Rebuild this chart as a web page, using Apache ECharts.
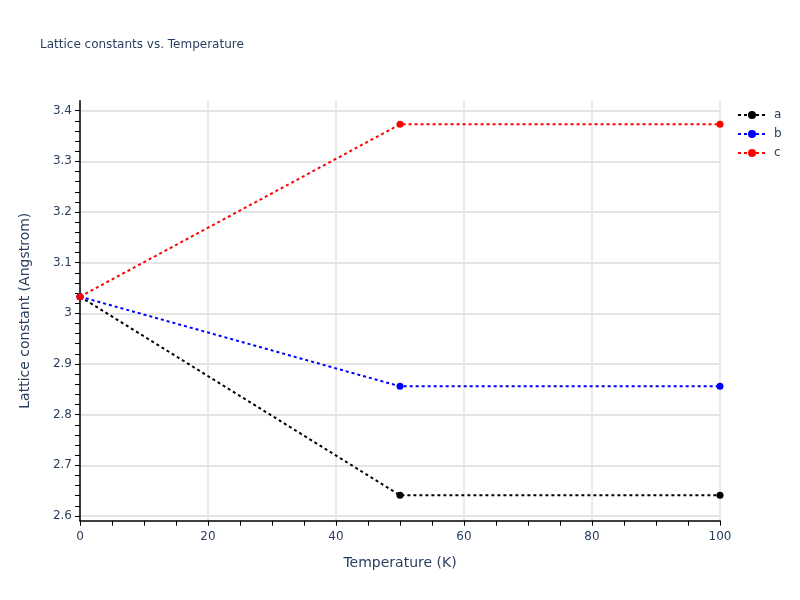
<!DOCTYPE html>
<html>
<head>
<meta charset="utf-8">
<script src="https://cdn.jsdelivr.net/npm/echarts@6/dist/echarts.min.js"></script>
<style>html,body{margin:0;padding:0;background:#fff}#chart{width:800px;height:600px}</style>
</head>
<body>
<div id="chart"></div>
<script>
const temperatures = [0, 50, 100];
const aValues = [3.033, 2.641, 2.641];
const bValues = [3.033, 2.856, 2.856];
const cValues = [3.033, 3.373, 3.373];
const seriesNames = ['a', 'b', 'c'];
const seriesColors = ['#000000', '#0000ff', '#ff0000'];
const xTicks = [0, 20, 40, 60, 80, 100];
const yTicks = [2.6, 2.7, 2.8, 2.9, 3.0, 3.1, 3.2, 3.3, 3.4];

const font = '"DejaVu Sans", Verdana, sans-serif';
const textColor = '#2a3f5f';
const allValues = [aValues, bValues, cValues];

const chart = echarts.init(document.getElementById('chart'));
chart.setOption({
  animation: false,
  backgroundColor: '#ffffff',
  textStyle: { fontFamily: font },
  title: {
    text: 'Lattice constants vs. Temperature',
    left: 40, top: 39, padding: 0,
    textStyle: { fontSize: 12, fontWeight: 'normal', color: textColor, fontFamily: font }
  },
  legend: {
    orient: 'vertical',
    left: 737, top: 109, padding: 0,
    itemWidth: 28, itemHeight: 10, itemGap: 7,
    textStyle: { fontSize: 12, color: textColor, fontFamily: font, padding: [0, 0, 0, 3] },
    data: seriesNames
  },
  grid: [
    { left: 80, width: 640, top: 100.7, height: 420 },
    { left: 80, width: 640, top: 110.7, height: 405.3 }
  ],
  xAxis: [
    {
      type: 'value', gridIndex: 0, min: xTicks[0], max: xTicks[xTicks.length - 1], interval: 20,
      name: 'Temperature (K)', nameLocation: 'middle', nameGap: 36,
      nameTextStyle: { fontSize: 14, color: textColor, fontFamily: font },
      axisLine: { show: true, onZero: false, lineStyle: { color: '#000', width: 1.5 } },
      axisTick: { show: true, length: 5, lineStyle: { color: '#000' } },
      minorTick: { show: true, splitNumber: 4, length: 5, lineStyle: { color: '#000' } },
      axisLabel: { fontSize: 12, color: textColor, margin: 10, fontFamily: font },
      splitLine: { show: true, lineStyle: { color: '#e5e5e5', width: 1.5 } }
    },
    { type: 'value', gridIndex: 1, min: 0, max: 100, show: false }
  ],
  yAxis: [
    {
      type: 'value', gridIndex: 0, min: 2.5908, max: 3.4197,
      name: 'Lattice constant (Angstrom)', nameLocation: 'middle', nameGap: 48,
      nameTextStyle: { fontSize: 14, color: textColor, fontFamily: font },
      axisLine: { show: true, onZero: false, lineStyle: { color: '#000', width: 1.5 } },
      axisTick: { show: false }, axisLabel: { show: false }, splitLine: { show: false }
    },
    {
      type: 'value', gridIndex: 1, min: yTicks[0], max: yTicks[yTicks.length - 1], interval: 0.1,
      axisLine: { show: false },
      axisTick: { show: true, length: 5, lineStyle: { color: '#000' } },
      minorTick: { show: true, splitNumber: 5, length: 5, lineStyle: { color: '#000' } },
      axisLabel: {
        fontSize: 12, color: textColor, margin: 8, fontFamily: font,
        formatter: v => { const r = Math.round(v * 10) / 10; return Number.isInteger(r) ? String(r) : r.toFixed(1); }
      },
      splitLine: { show: true, lineStyle: { color: '#dcdcdc', width: 1.5 } }
    }
  ],
  series: seriesNames.map((name, i) => ({
    name: name,
    type: 'line',
    xAxisIndex: 0, yAxisIndex: 0,
    data: temperatures.map((t, j) => [t, allValues[i][j]]),
    symbol: 'circle', symbolSize: 7,
    clip: false,
    itemStyle: { color: seriesColors[i] },
    lineStyle: { color: seriesColors[i], width: 2, type: [3, 3] }
  }))
});
</script>
</body>
</html>
